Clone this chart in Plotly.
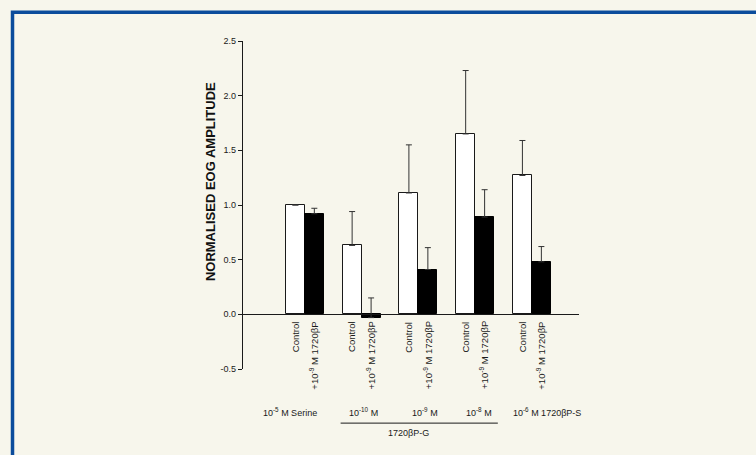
import plotly.graph_objects as go

# ---- data ----
groups = ["10<sup>-5</sup> M Serine", "10<sup>-10</sup> M", "10<sup>-9</sup> M",
          "10<sup>-8</sup> M", "10<sup>-6</sup> M 1720βP-S"]
control_vals = [1.00, 0.63, 1.11, 1.65, 1.27]
control_err = [0.00, 0.31, 0.44, 0.58, 0.32]
treat_vals = [0.92, -0.03, 0.41, 0.89, 0.48]
treat_err = [0.05, 0.18, 0.20, 0.25, 0.14]
cat_labels = ["Control", "+10<sup>-9</sup> M 1720βP"]
y_ticks = [-0.5, 0.0, 0.5, 1.0, 1.5, 2.0, 2.5]
y_ticktext = ["-0.5", "0.0", "0.5", "1.0", "1.5", "2.0", "2.5"]
bracket_label = "1720βP-G"
y_title = "NORMALISED EOG AMPLITUDE"

# ---- layout geometry ----
gx = [i + 1 for i in range(len(groups))]
off = 0.167
bw = 0.335
xc = [g - off for g in gx]
xt = [g + off for g in gx]

FONT = "Liberation Sans, Arial, Helvetica, sans-serif"
BG = "#f7f6ec"
INK = "#1a1a1a"

fig = go.Figure()
fig.add_trace(go.Bar(
    x=xc, y=control_vals, width=bw,
    marker=dict(color="white", line=dict(color=INK, width=1)),
    error_y=dict(type="data", array=control_err, arrayminus=[0]*5, symmetric=False,
                 color="#333", thickness=1, width=3),
    showlegend=False))
fig.add_trace(go.Bar(
    x=xt, y=treat_vals, width=bw,
    marker=dict(color="black", line=dict(color="black", width=1)),
    error_y=dict(type="data", array=treat_err, arrayminus=[0]*5, symmetric=False,
                 color="#333", thickness=1, width=3),
    showlegend=False))

ymin, ymax = -0.5, 2.5
zero_pos = (0 - ymin) / (ymax - ymin)

fig.update_layout(
    width=756, height=455,
    margin=dict(l=243, r=177, t=41, b=86),
    paper_bgcolor=BG, plot_bgcolor=BG,
    font=dict(family=FONT, size=9, color=INK),
    bargap=0, barmode="overlay",
    xaxis=dict(range=[-0.09, 5.83], anchor="free", position=zero_pos,
               showline=True, linecolor=INK, linewidth=1, showgrid=False,
               zeroline=False, showticklabels=False, ticks=""),
    yaxis=dict(range=[ymin, ymax], showline=True, linecolor=INK, linewidth=1.2,
               showgrid=False, zeroline=False, tickmode="array", tickvals=y_ticks,
               ticktext=y_ticktext, ticks="outside", ticklen=4, tickcolor=INK,
               tickfont=dict(size=9, family=FONT, color=INK)),
)

# category labels (rotated, top-aligned under the zero line)
for a, b in zip(xc, xt):
    for xv, lab in ((a, cat_labels[0]), (b, cat_labels[1])):
        fig.add_annotation(text=lab, textangle=-90, x=xv, xref="x", y=0, yref="y",
                           xanchor="center", yanchor="top", yshift=-6,
                           showarrow=False, borderpad=0,
                           font=dict(size=9.5, family=FONT, color=INK))

# y-axis title
fig.add_annotation(text="<b>" + y_title + "</b>", textangle=-90,
                   xref="paper", yref="paper", x=-0.098, y=0.570,
                   xanchor="center", yanchor="middle", showarrow=False,
                   font=dict(size=13, family=FONT, color="#111"))

# group labels
label_shift = [-0.27, 0.04, 0.11, 0.07, 0.26]
for g, s, t in zip(gx, label_shift, groups):
    fig.add_annotation(text=t, x=g + s, xref="x", y=-0.131, yref="paper",
                       xanchor="center", yanchor="middle", showarrow=False,
                       font=dict(size=9, family=FONT, color=INK))

# bracket under 1720βP-G groups
fig.add_shape(type="line", xref="x", yref="paper",
              x0=gx[1] - 0.37, x1=gx[3] + 0.40, y0=-0.165, y1=-0.165,
              line=dict(color=INK, width=1))
fig.add_annotation(text=bracket_label, x=(gx[1] + gx[3]) / 2 - 0.18, xref="x",
                   y=-0.195, yref="paper", xanchor="center", yanchor="middle",
                   showarrow=False, font=dict(size=9, family=FONT, color=INK))

# blue frame
fig.add_shape(type="rect", xref="paper", yref="paper",
              x0=-0.686, x1=1.7, y0=-0.5, y1=1.088,
              line=dict(color="#0b4c9c", width=3.5), layer="below")

fig.write_html("out.html", config={"displayModeBar": False},
               post_script="document.body.style.margin='0';")
